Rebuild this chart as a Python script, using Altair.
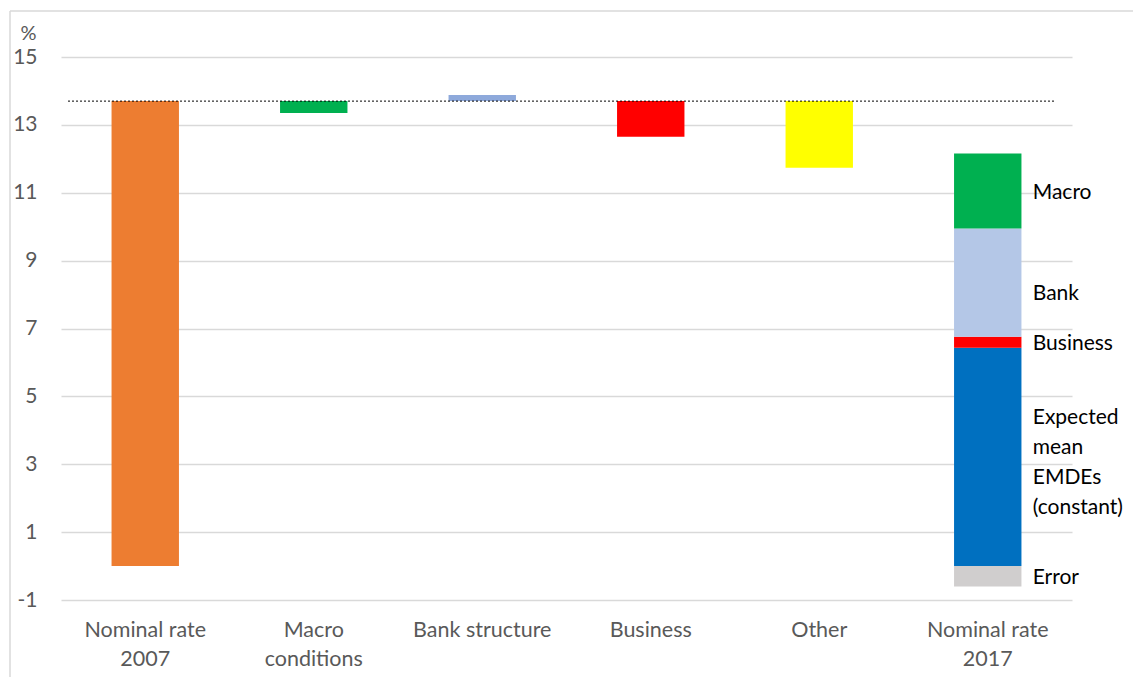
import altair as alt
import pandas as pd

FONT = "Lato"

# Waterfall / stacked segments
categories = ["Nominal rate|2007", "Macro|conditions", "Bank structure", "Business", "Other", "Nominal rate|2017"]
seg_cat = ["Nominal rate|2007", "Macro|conditions", "Bank structure", "Business", "Other",
           "Nominal rate|2017", "Nominal rate|2017", "Nominal rate|2017", "Nominal rate|2017", "Nominal rate|2017"]
seg_name = ["Nominal 2007", "Macro conditions", "Bank structure", "Business", "Other",
            "Error", "Expected", "Business17", "Bank17", "Macro17"]
seg_start = [0.0, 13.7, 13.7, 13.7, 13.7, 0.0, 0.0, 6.43, 6.76, 9.95]
seg_end = [13.7, 13.35, 13.88, 12.65, 11.74, -0.6, 6.43, 6.76, 9.95, 12.16]
seg_color = ["#ED7D31", "#00B050", "#8EA9DB", "#FF0000", "#FFFF00",
             "#D0CECE", "#0070C0", "#FF0000", "#B4C7E7", "#00B050"]

# Annotation labels next to the 2017 bar
label_text = ["Macro", "Bank", "Business", "Expected|mean|EMDEs|(constant)", "Error"]
label_y = [11.0, 8.03, 6.53, 4.35, -0.35]

ref_level = 13.7
y_ticks = [-1, 1, 3, 5, 7, 9, 11, 13, 15]

bars_df = pd.DataFrame({"cat": seg_cat, "name": seg_name, "start": seg_start,
                        "end": seg_end, "color": seg_color})
labels_df = pd.DataFrame({"cat": ["Nominal rate|2017"] * len(label_text),
                          "text": [t.split("|") for t in label_text], "y": label_y})

xscale = alt.Scale(domain=categories, paddingInner=0.6, paddingOuter=0.3)
yscale = alt.Scale(domain=[-1, 15], nice=False, zero=False)

x_enc = alt.X("cat:N", scale=xscale, sort=categories,
              axis=alt.Axis(title=None, labelAngle=0, domain=False, ticks=False, grid=False,
                            labelExpr="split(datum.label, '|')", labelFont=FONT,
                            labelFontSize=21.5, labelColor="#595959", labelLineHeight=29,
                            labelPadding=19, labelBaseline="top"))
y_axis = alt.Axis(title="%", titleAngle=0, titleX=-33, titleY=-24, titleAlign="center",
                  titleBaseline="middle", titleFont=FONT, titleFontSize=20,
                  titleFontWeight="normal", titleColor="#595959",
                  values=y_ticks, grid=True, gridColor="#d9d9d9", gridWidth=1.5,
                  domain=False, ticks=False, labelFont=FONT, labelFontSize=21,
                  labelColor="#595959", labelPadding=24,
                  labelExpr="'' + datum.value")

bars = alt.Chart(bars_df).mark_bar(strokeWidth=0).encode(
    x=x_enc,
    y=alt.Y("start:Q", scale=yscale, axis=y_axis),
    y2="end:Q",
    color=alt.Color("color:N", scale=None),
)

ref = alt.Chart(pd.DataFrame({"v": [ref_level]})).mark_rule(
    color="black", strokeDash=[2, 2], strokeWidth=1
).encode(y=alt.Y("v:Q", scale=yscale), x=alt.value(7), x2=alt.value(995))

labels = alt.Chart(labels_df).mark_text(
    align="left", baseline="middle", dx=45, font=FONT, fontSize=21, color="black", lineHeight=30
).encode(
    x=alt.X("cat:N", scale=xscale, sort=categories),
    y=alt.Y("y:Q", scale=yscale),
    text="text",
)

border_left = alt.Chart(pd.DataFrame({"a": [0]})).mark_rule(color="#d9d9d9", strokeWidth=1.5).encode(
    x=alt.value(-51), y=alt.value(-46), y2=alt.value(630))
border_top = alt.Chart(pd.DataFrame({"a": [0]})).mark_rule(color="#d9d9d9", strokeWidth=1.5).encode(
    x=alt.value(-51), x2=alt.value(1080), y=alt.value(-46))

chart = alt.layer(border_left, border_top, bars, ref, labels).properties(
    width=1011, height=543,
    autosize=alt.AutoSizeParams(type="none"),
    padding={"left": 61, "top": 57, "right": 61, "bottom": 77},
    background="white",
).configure_view(stroke=None)

chart.save("out.html", embed_options={"renderer": "svg", "actions": False})
